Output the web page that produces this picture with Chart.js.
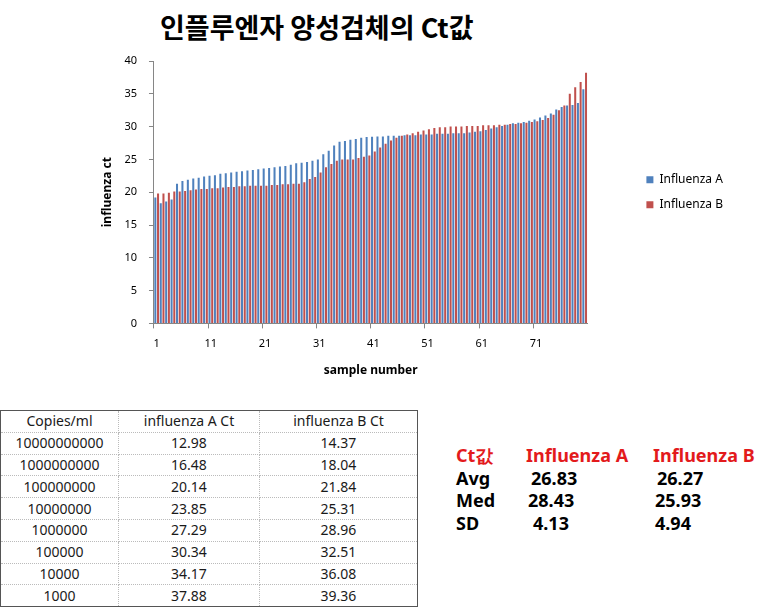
<!DOCTYPE html>
<html>
<head>
<meta charset="utf-8">
<script src="https://cdn.jsdelivr.net/npm/chart.js@4.4.1/dist/chart.umd.min.js"></script>
<style>
  body { margin: 0; background: #fff; width: 766px; height: 615px; position: relative; overflow: hidden;
         font-family: "Noto Sans", "Noto Sans CJK KR", sans-serif; }
  #title { position: absolute; left: 160px; top: 7px; margin: 0; white-space: nowrap;
           font: bold 27px "Noto Sans CJK KR", sans-serif; color: #000; }
  #wrap { position: absolute; left: 0; top: 0; width: 766px; height: 390px; }
  table { position: absolute; left: 0; top: 410px; width: 418px; border-collapse: collapse;
          border: 1px solid #555; font-size: 14px; color: #1a1a1a; }
  td { height: 20.8px; padding: 0; text-align: center; border: 1px dotted #bbb; line-height: 20px; }
  td.c1 { width: 117px; } td.c2 { width: 140px; }
  .st { position: absolute; font: bold 18px "Noto Sans", sans-serif; white-space: nowrap; line-height: 22px; }
  .red { color: #e31a1c; }
</style>
</head>
<body>
<h1 id="title">인플루엔자 양성검체의 Ct값</h1>
<div id="wrap"><canvas id="chart" width="766" height="390"></canvas></div>

<table>
  <tr><td class="c1">Copies/ml</td><td class="c2">influenza A Ct</td><td>influenza B Ct</td></tr>
  <tr><td>10000000000</td><td>12.98</td><td>14.37</td></tr>
  <tr><td>1000000000</td><td>16.48</td><td>18.04</td></tr>
  <tr><td>100000000</td><td>20.14</td><td>21.84</td></tr>
  <tr><td>10000000</td><td>23.85</td><td>25.31</td></tr>
  <tr><td>1000000</td><td>27.29</td><td>28.96</td></tr>
  <tr><td>100000</td><td>30.34</td><td>32.51</td></tr>
  <tr><td>10000</td><td>34.17</td><td>36.08</td></tr>
  <tr><td>1000</td><td>37.88</td><td>39.36</td></tr>
</table>

<div class="st red" style="left:456px;top:444px">Ct값</div>
<div class="st red" style="left:526px;top:444px">Influenza A</div>
<div class="st red" style="left:653px;top:444px">Influenza B</div>
<div class="st" style="left:456px;top:467px">Avg</div>
<div class="st" style="left:531px;top:467px">26.83</div>
<div class="st" style="left:657px;top:467px">26.27</div>
<div class="st" style="left:456px;top:489px">Med</div>
<div class="st" style="left:528px;top:489px">28.43</div>
<div class="st" style="left:655px;top:489px">25.93</div>
<div class="st" style="left:456px;top:512px">SD</div>
<div class="st" style="left:533px;top:512px">4.13</div>
<div class="st" style="left:655px;top:512px">4.94</div>

<script>
// sample numbers 1..80
const samples = [];
for (let i = 1; i <= 80; i++) samples.push(String(i));

// Ct values
const fluA = [
  19.2, 18.3, 18.6, 18.9, 21.3, 21.7, 21.9, 22.1, 22.2, 22.4,
  22.5, 22.6, 22.8, 22.9, 23.0, 23.1, 23.2, 23.3, 23.4, 23.5,
  23.6, 23.7, 23.8, 23.9, 24.0, 24.2, 24.4, 24.5, 24.6, 24.8,
  25.0, 25.8, 26.3, 27.1, 27.7, 27.8, 28.0, 28.1, 28.3, 28.4,
  28.45, 28.5, 28.5, 28.6, 28.6, 28.6, 28.7, 28.7, 28.7, 28.8,
  28.8, 28.8, 28.9, 28.9, 28.9, 29.0, 29.0, 29.0, 29.1, 29.2,
  29.3, 29.5, 29.7, 29.9, 30.1, 30.3, 30.5, 30.6, 30.7, 30.9,
  31.1, 31.4, 31.7, 32.0, 32.6, 33.0, 33.2, 33.3, 33.6, 35.7
];
const fluB = [
  19.8, 19.8, 19.9, 20.1, 20.1, 20.2, 20.3, 20.4, 20.5, 20.5,
  20.6, 20.6, 20.7, 20.8, 20.8, 20.9, 20.9, 21.0, 21.0, 21.0,
  21.0, 21.1, 21.1, 21.2, 21.2, 21.3, 21.3, 21.5, 22.0, 22.3,
  23.0, 23.8, 24.3, 24.8, 25.0, 25.0, 25.0, 25.2, 25.4, 25.6,
  26.2, 26.8, 27.4, 27.9, 28.3, 28.6, 28.8, 29.0, 29.2, 29.4,
  29.6, 29.8, 29.9, 29.9, 30.0, 30.0, 30.0, 30.1, 30.1, 30.1,
  30.2, 30.2, 30.2, 30.3, 30.3, 30.4, 30.4, 30.5, 30.6, 30.7,
  30.8, 31.0, 31.3, 31.8, 32.5, 33.2, 35.0, 36.0, 36.8, 38.2
];

const axisGrey = '#868686';
const font = '"Noto Sans", "Noto Sans CJK KR", sans-serif';

new Chart(document.getElementById('chart'), {
  type: 'bar',
  data: {
    labels: samples,
    datasets: [
      { label: 'Influenza A', data: fluA, backgroundColor: '#4f81bd', yAxisID: 'y',
        categoryPercentage: 1.0, barPercentage: 0.75 },
      { label: 'Influenza B', data: fluB, backgroundColor: '#c0504d', yAxisID: 'y',
        categoryPercentage: 1.0, barPercentage: 0.75 }
    ]
  },
  options: {
    responsive: false,
    animation: false,
    layout: { padding: { top: 61, left: 96, right: 33, bottom: 10 } },
    plugins: {
      tooltip: { enabled: false },
      legend: {
        position: 'right',
        fullSize: false,
        labels: { boxWidth: 7, boxHeight: 7, padding: 13, color: '#000',
                  font: { family: font, size: 12 } }
      }
    },
    scales: {
      x: {
        ticks: {
          autoSkip: false, maxRotation: 0, padding: 9, color: '#000',
          font: { family: font, size: 11 },
          callback: function (v, i) { return i % 10 === 0 ? samples[i] : ''; }
        },
        grid: { drawOnChartArea: false, tickLength: 5,
                tickColor: c => (c.index % 10 === 0 ? axisGrey : 'rgba(0,0,0,0)') },
        border: { color: axisGrey },
        title: { display: true, text: 'sample number', color: '#000',
                 font: { family: font, size: 12, weight: 'bold' }, padding: { top: 4, bottom: 2 } }
      },
      y: {
        min: 0, max: 40,
        ticks: { stepSize: 5, padding: 12, color: '#000', font: { family: font, size: 11 } },
        grid: { drawOnChartArea: false, tickLength: 5, tickColor: axisGrey },
        border: { color: axisGrey },
        title: { display: true, text: 'influenza ct', color: '#000',
                 font: { family: font, size: 12, weight: 'bold' }, padding: { top: 4, bottom: -2 } }
      },
      // empty spacer between plot and legend
      yR: {
        position: 'right',
        grid: { display: false }, border: { display: false }, ticks: { display: false },
        afterFit: s => { s.width = 46; }
      }
    }
  }
});
</script>
</body>
</html>
